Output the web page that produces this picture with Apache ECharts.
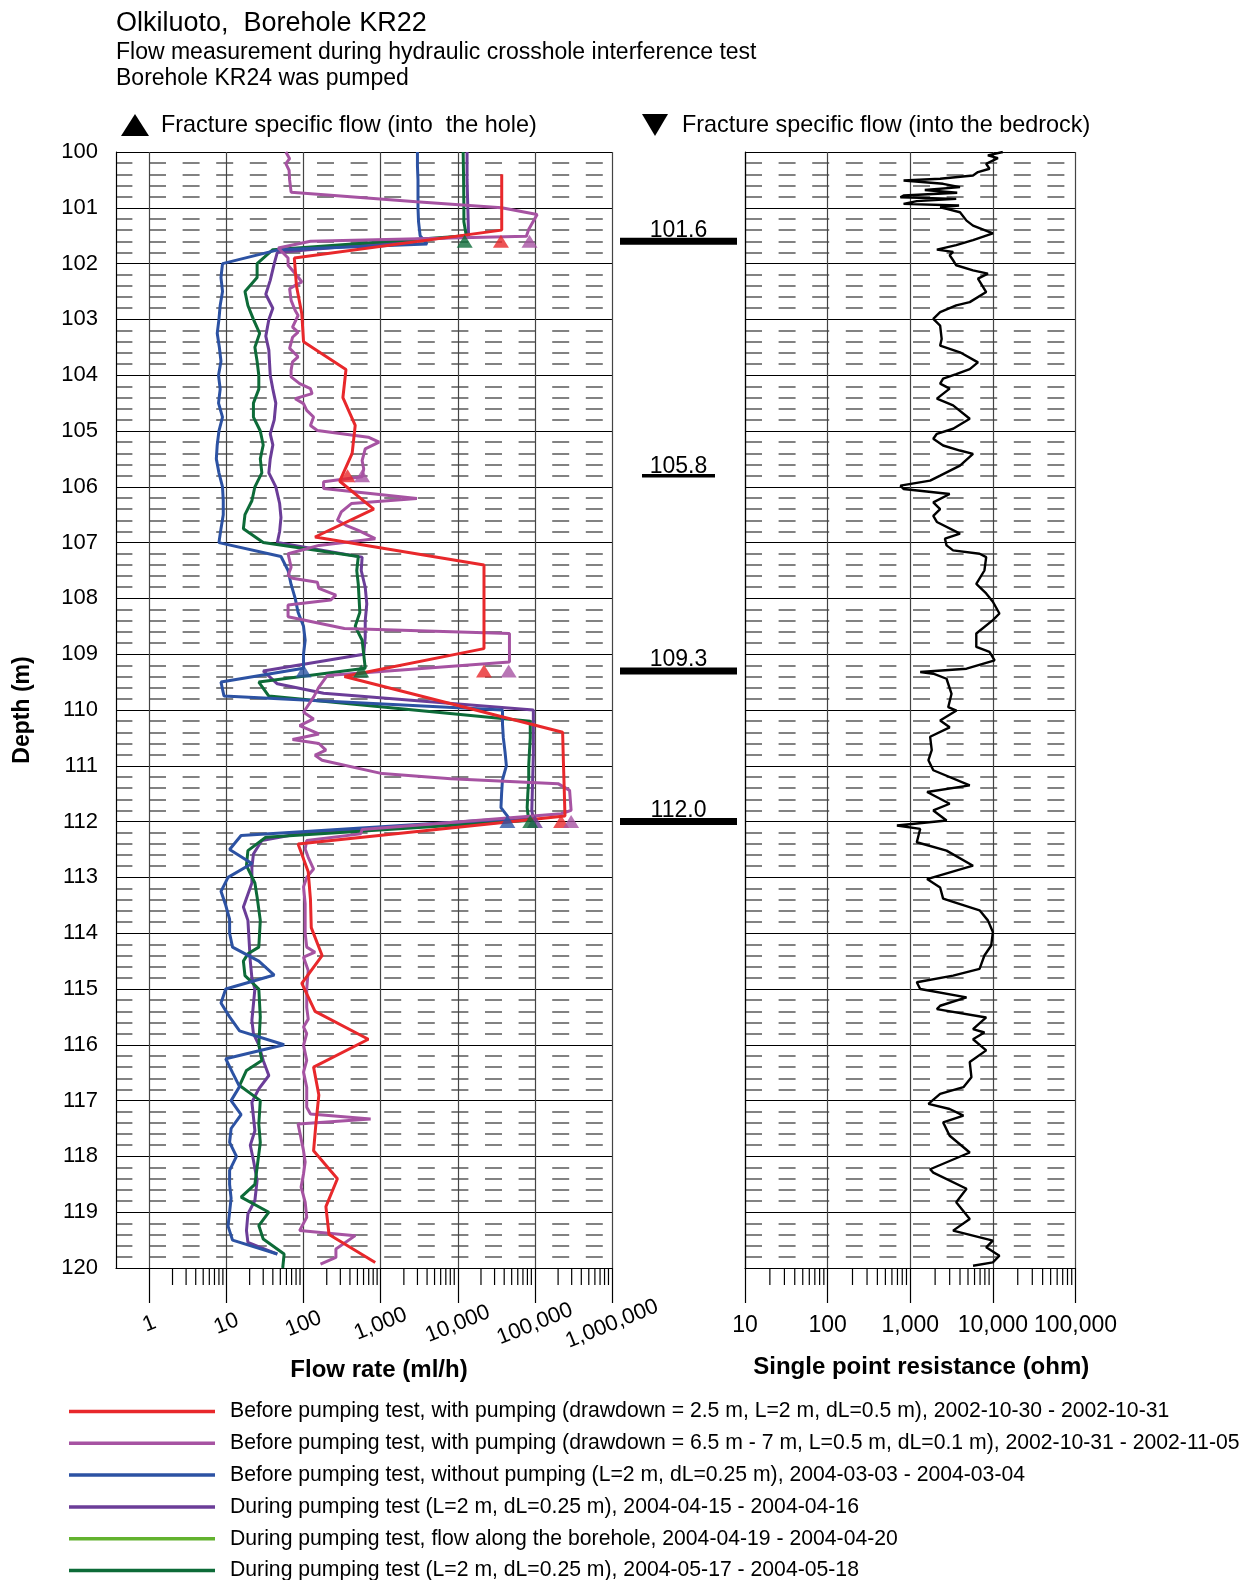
<!DOCTYPE html>
<html>
<head>
<meta charset="utf-8">
<script src="https://cdn.jsdelivr.net/npm/echarts@6/dist/echarts.min.js"></script>
<style>html,body{margin:0;padding:0;background:#fff}#chart{width:1254px;height:1580px}</style>
</head>
<body>
<div id="chart"></div>
<script>
// ---------------- DATA (depth in m, flow in ml/h, resistance in ohm) ----------------
const seriesNames = [
  'Before pumping test, with pumping (drawdown = 2.5 m, L=2 m, dL=0.5 m), 2002-10-30 - 2002-10-31',
  'Before pumping test, with pumping (drawdown = 6.5 m - 7 m, L=0.5 m, dL=0.1 m), 2002-10-31 - 2002-11-05',
  'Before pumping test, without pumping (L=2 m, dL=0.25 m), 2004-03-03 - 2004-03-04',
  'During pumping test (L=2 m, dL=0.25 m), 2004-04-15 - 2004-04-16',
  'During pumping test, flow along the borehole, 2004-04-19 - 2004-04-20',
  'During pumping test (L=2 m, dL=0.25 m), 2004-05-17 - 2004-05-18'
];
const seriesColors = ['#e8282b', '#a653a2', '#2c52a3', '#6b3d98', '#62b22f', '#0d6b38'];

// red: drawdown 2.5 m
const redDepth = [100.4,100.9,101.4,101.9,102.4,102.9,103.4,103.9,104.4,104.9,105.4,105.9,106.4,106.9,107.4,107.9,108.4,108.9,109.4,110.4,110.9,111.4,111.9,112.4,112.9,113.4,113.9,114.4,114.9,115.4,115.9,116.4,116.9,117.4,117.9,118.4,118.9,119.4,119.9];
const redFlow  = [37150,37150,37150,76,81,95,100,355,324,468,427,295,813,141,21880,21880,21880,21880,339,229000,234000,240000,245500,85,115,123,126,174,95,141,692,135,158,145,135,275,195,214,851];

// magenta: drawdown 6.5-7 m
const magDepth = [100.0,100.12,100.21,100.33,100.5,100.72,100.89,101.0,101.12,101.39,101.51,101.6,101.72,101.9,102.03,102.24,102.33,102.39,102.45,102.66,102.84,102.93,103.14,103.23,103.32,103.52,103.67,103.76,103.91,104.03,104.15,104.24,104.33,104.42,104.51,104.63,104.75,104.9,104.99,105.11,105.2,105.32,105.53,105.68,105.82,105.91,106.03,106.21,106.3,106.45,106.6,106.69,106.78,106.93,107.05,107.11,107.2,107.44,107.59,107.64,107.71,107.82,107.94,108.03,108.12,108.33,108.54,108.63,109.14,109.38,109.59,109.77,110.04,110.16,110.28,110.43,110.53,110.6,110.72,110.81,110.9,111.14,111.23,111.32,111.44,111.8,111.86,112.14,112.22,112.34,112.49,112.64,112.85,113.0,113.17,113.47,113.77,114.0,114.25,114.34,114.43,114.67,115.0,115.33,115.54,115.68,115.8,116.01,116.28,116.49,116.76,117.12,117.24,117.33,117.42,117.9,118.1,118.31,118.55,118.82,119.09,119.33,119.42,119.66,119.81,119.93];
const magFlow  = [59,66,59,65,66,69,2900,37000,107000,83000,77600,123,47,63,63,85,95,78,66,69,78,85,72,85,72,66,85,72,69,69,89,123,129,78,100,110,135,123,151,692,955,631,575,603,575,182,182,2950,417,309,275,355,513,851,158,110,63,69,63,72,151,158,263,224,63,63,339,46800,46800,204,158,135,100,135,89,158,72,158,195,141,174,1047,8130,199500,282000,295000,219000,575,550,110,105,115,135,110,100,105,105,105,110,141,100,115,110,110,115,100,110,100,110,100,110,110,123,741,85,100,105,100,93,105,110,89,468,263,263,166];

// blue: without pumping
const blueDepth = [100.0,100.25,100.5,100.75,101.0,101.25,101.5,101.65,101.75,102.0,102.25,102.5,102.75,103.0,103.25,103.5,103.75,104.0,104.25,104.5,104.75,105.0,105.25,105.5,105.75,106.0,106.25,106.5,106.75,107.0,107.25,107.5,107.75,108.0,108.25,108.5,108.75,109.0,109.25,109.5,109.75,110.0,110.25,110.5,110.75,111.0,111.25,111.5,111.75,111.95,112.25,112.5,112.75,113.0,113.25,113.5,113.75,114.0,114.25,114.5,114.75,115.0,115.25,115.5,115.75,116.0,116.25,116.5,116.75,117.0,117.25,117.5,117.75,118.0,118.25,118.5,118.75,119.0,119.25,119.5,119.75];
const blueFlow  = [3000,3000,3050,3050,3050,3100,3250,4000,48,8.9,8.5,8.9,8.3,8.0,7.6,8.1,8.5,7.9,8.3,7.9,8.9,8.0,7.6,7.4,8.0,8.9,9.1,9.1,8.5,8.0,51,63,69,78,85,100,105,100,100,8.5,9.3,38000,38000,39000,41000,42700,38000,37000,36300,47000,15.5,11,21.4,10.5,8.5,9.8,11,11,12,26.3,41.7,9.8,8.5,11,14.8,56,9.8,12,14.8,11.5,15.5,11.5,11,13.5,11,11,11.5,11,10.5,12,45.7];

// purple: during pumping 2004-04
const purDepth = [100.0,100.5,101.0,101.5,101.8,102.0,102.3,102.55,102.8,103.0,103.3,103.55,104.0,104.25,104.5,104.8,105.05,105.25,105.5,105.75,106.0,106.3,106.55,106.8,107.0,107.26,107.5,107.8,108.1,108.4,108.7,109.0,109.3,109.53,109.7,110.0,110.8,111.8,111.95,112.19,112.34,112.58,112.82,113.1,113.53,113.77,114.5,114.8,115.0,115.56,115.8,116.0,116.28,116.55,116.79,117.03,117.54,117.8,118.07,118.43,118.79,119.03,119.33,119.54,119.75];
const purFlow  = [13200,13200,13500,13800,45.7,41.7,37,32.4,40,35.5,32.4,35.5,37,40,43.7,41.7,37,40,37,35.5,43.7,49,51,49,45.7,575,560,631,661,631,631,603,30,45.7,182,95500,95500,91200,95500,110,28.8,22.4,21.4,21.4,16.6,19,20.4,21.4,23.4,21.4,22.4,26.3,30,35.5,26.3,21.4,23.4,20.4,22.4,25,23.4,19,18.2,19,45.7];

// light green: flow along the borehole (no trace visible in the plot)
const lgDepth = [];
const lgFlow  = [];

// dark green: during pumping 2004-05
const dgDepth = [100.0,100.5,101.0,101.25,101.5,101.75,102.0,102.25,102.5,102.75,103.0,103.25,103.5,103.75,104.0,104.25,104.5,104.75,105.0,105.25,105.5,105.75,106.0,106.25,106.5,106.75,107.0,107.25,107.5,107.75,108.0,108.25,108.5,108.75,109.0,109.25,109.5,109.75,110.2,110.5,110.75,111.0,111.25,111.5,111.75,111.98,112.28,112.52,112.79,113.1,113.35,113.77,114.25,114.37,114.5,114.76,115.0,115.5,116.0,116.28,116.46,116.73,117.0,117.42,117.75,118.2,118.5,118.73,119.0,119.24,119.48,119.75,120.0];
const dgFlow  = [11750,11900,12000,12000,12900,40,25,25,17.4,19,22.4,27,23.4,25,26.3,26.3,22.4,22.4,27.5,30,27.5,28.8,23.4,21.4,17.4,16.6,30,513,490,513,525,537,468,575,603,631,26.3,35.5,87100,87100,85000,83200,83200,81000,79400,83200,32.4,19,18.2,23.4,25,27.5,26.3,19,16.6,17.4,26.3,27.5,26.3,28.8,18.2,14.8,27.5,26.3,27.5,25,23.4,15.5,35.5,26.3,30,56,53.7];

// fracture specific flows (into the hole), triangles
const fracRedDepth = [101.6,105.8,109.3,112.0];
const fracRedFlow  = [36300,372,21880,218800];
const fracMagDepth = [101.6,105.8,109.3,112.0];
const fracMagFlow  = [85100,575,45700,295100];
const fracBlueDepth = [109.3,112.0];
const fracBlueFlow  = [100,44000];
const fracPurDepth = [112.0];
const fracPurFlow  = [100000];
const fracDgDepth = [101.6,109.3,112.0];
const fracDgFlow  = [12300,560,87100];

// single point resistance (ohm)
const resDepth = [100.0,100.06,100.11,100.21,100.3,100.36,100.42,100.48,100.51,100.57,100.63,100.68,100.73,100.78,100.81,100.84,100.88,100.93,100.96,100.99,101.02,101.08,101.23,101.32,101.46,101.58,101.67,101.75,101.79,101.85,101.94,102.03,102.12,102.18,102.27,102.51,102.69,102.75,102.87,102.99,103.11,103.35,103.47,103.59,103.77,103.89,103.98,104.06,104.15,104.24,104.42,104.54,104.78,104.96,105.05,105.14,105.26,105.35,105.41,105.62,105.8,105.89,105.98,106.04,106.13,106.28,106.4,106.52,106.63,106.84,106.93,107.05,107.14,107.2,107.26,107.5,107.74,107.91,108.06,108.27,108.39,108.63,108.87,108.96,109.11,109.26,109.32,109.35,109.44,109.71,109.95,110.01,110.19,110.31,110.48,110.72,110.9,111.08,111.35,111.47,111.68,111.8,111.98,112.07,112.13,112.37,112.52,112.79,113.03,113.18,113.38,113.44,113.59,113.77,113.98,114.22,114.4,114.64,114.76,114.88,115.0,115.15,115.3,115.36,115.51,115.72,115.78,115.9,116.1,116.31,116.58,116.76,116.88,117.06,117.15,117.27,117.39,117.63,117.93,118.23,118.29,118.58,118.82,119.12,119.33,119.51,119.63,119.78,119.9,119.96];
const resOhm   = [13200,8700,11500,8300,9100,6600,5750,2300,830,2500,4000,1500,3700,830,760,3600,1200,830,3900,2300,2750,4000,4800,5750,10000,5750,3600,2100,3300,3000,3300,3600,5750,8700,6600,8300,5250,3600,2300,1900,2300,2400,2300,4000,6600,5250,3600,2500,2300,3000,2100,3300,5250,3300,2100,1900,2500,4000,5750,4000,2300,1740,760,830,3000,1900,2300,1900,2100,4000,2630,2750,3300,6900,8300,7900,6300,8300,10000,12000,10000,6300,6300,9100,10500,4800,1320,1900,2750,3160,2880,3630,2300,3000,1740,1820,1660,1900,5250,1600,3000,1900,2750,690,1320,1200,2750,5750,1600,2300,2500,3300,6900,8700,10000,9550,7900,6900,3300,1200,1320,4800,2300,2100,8300,5750,7900,5750,8300,5250,5500,4400,2300,1660,3000,4400,2500,3000,5250,1740,1900,4800,3600,5250,3300,10000,8300,12000,10000,5750];

// fracture depths marked between the panels
const markDepth  = [101.6, 105.8, 109.3, 112.0];
const markLabel  = ['101.6', '105.8', '109.3', '112.0'];
const markThick  = [1, 0, 1, 1];

// tick labels
const flowTicks = [1, 10, 100, 1000, 10000, 100000, 1000000];
const resTicks  = [10, 100, 1000, 10000, 100000];

// ---------------- CHART ----------------
const FONT = '"Liberation Sans", Arial, Helvetica, sans-serif';
const pairs = (d, v) => d.map((y, i) => [v[i], y]);
const fmt = v => String(Math.round(v)).replace(/\B(?=(\d{3})+(?!\d))/g, ',');
const minorOf = majors => {
  const out = [];
  for (let i = 0; i < majors.length - 1; i++) for (let k = 2; k <= 9; k++) out.push([majors[i] * k, 120]);
  return out;
};

const TOP = 152, BOTTOM_Y = 1268, H = BOTTOM_Y - TOP;

function yAxisCfg(grid, showLabels, dashOffset) {
  return {
    type: 'value', gridIndex: grid, inverse: true, min: 100, max: 120, interval: 1,
    axisLine: { show: true, lineStyle: { color: '#000', width: 1.2 } },
    axisTick: { show: false },
    axisLabel: { show: showLabels, fontSize: 22, color: '#000', margin: 18, fontFamily: FONT },
    splitLine: { show: true, lineStyle: { color: '#000', width: 1.2 } },
    minorTick: { show: false, splitNumber: 5 },
    minorSplitLine: { show: true, lineStyle: { color: '#5a5a5a', width: 1.6, type: [17, 16.6], dashOffset: dashOffset } },
    name: showLabels ? 'Depth (m)' : '',
    nameLocation: 'middle', nameGap: 82, nameRotate: 90,
    nameTextStyle: { fontSize: 23, fontWeight: 'bold', color: '#000', fontFamily: FONT }
  };
}

const lineSeries = (name, color, data) => ({
  name, type: 'line', xAxisIndex: 0, yAxisIndex: 0, data,
  symbol: 'none', showSymbol: false, color,
  lineStyle: { color, width: 3 }, animation: false, z: 3
});
const triSeries = (color, data) => ({
  type: 'scatter', xAxisIndex: 0, yAxisIndex: 0, data, symbol: 'triangle',
  symbolSize: [16, 13], itemStyle: { color }, animation: false, z: 4, silent: true
});
const minorTickSeries = (xi, yi, data) => ({
  type: 'custom', xAxisIndex: xi, yAxisIndex: yi, data, clip: false, silent: true, z: 6,
  renderItem: (p, api) => {
    const c = api.coord([api.value(0), api.value(1)]);
    return { type: 'line', shape: { x1: c[0], y1: c[1], x2: c[0], y2: c[1] + 17 }, style: { stroke: '#000', lineWidth: 1.2 } };
  }
});

const option = {
  animation: false,
  backgroundColor: '#fff',
  textStyle: { fontFamily: FONT },
  grid: [
    { left: 116, top: TOP, width: 612 - 116, height: H, outerBoundsMode: 'none' },
    { left: 745, top: TOP, width: 1075.5 - 745, height: H, outerBoundsMode: 'none' },
    { left: 620, top: TOP, width: 117, height: H, outerBoundsMode: 'none' }
  ],
  xAxis: [
    {
      type: 'log', logBase: 10, gridIndex: 0, min: 0.37, max: 1000000,
      axisLine: { show: true, lineStyle: { color: '#000', width: 1.2 } },
      axisTick: { show: true, length: 35, customValues: flowTicks, lineStyle: { color: '#000', width: 1.2 } },
      axisLabel: { customValues: flowTicks, rotate: 22, align: 'center', verticalAlign: 'middle', margin: 56,
                   fontSize: 22, color: '#000', fontFamily: FONT, formatter: v => fmt(v) },
      splitLine: { show: true, lineStyle: { color: '#444', width: 1.2 } },
      minorTick: { show: false }, minorSplitLine: { show: false },
      name: 'Flow rate (ml/h)', nameLocation: 'middle', nameGap: 87,
      nameTextStyle: { fontSize: 24, fontWeight: 'bold', color: '#000', fontFamily: FONT, padding: [0, 0, 0, 30] }
    },
    {
      type: 'log', logBase: 10, gridIndex: 1, min: 10, max: 100000,
      axisLine: { show: true, lineStyle: { color: '#000', width: 1.2 } },
      axisTick: { show: true, length: 35, customValues: resTicks, lineStyle: { color: '#000', width: 1.2 } },
      axisLabel: { customValues: resTicks, margin: 46, fontSize: 23, color: '#000', fontFamily: FONT, formatter: v => fmt(v) },
      splitLine: { show: true, lineStyle: { color: '#444', width: 1.2 } },
      minorTick: { show: false }, minorSplitLine: { show: false },
      name: 'Single point resistance (ohm)', nameLocation: 'middle', nameGap: 87,
      nameTextStyle: { fontSize: 24, fontWeight: 'bold', color: '#000', fontFamily: FONT, padding: [0, 0, 0, 22] }
    },
    { type: 'value', gridIndex: 2, min: 0, max: 1, show: false }
  ],
  yAxis: [
    yAxisCfg(0, true, 0.6),
    yAxisCfg(1, false, 0),
    { type: 'value', gridIndex: 2, inverse: true, min: 100, max: 120, show: false }
  ],
  legend: {
    data: seriesNames, orient: 'vertical', left: 69, top: 1401, height: 200, padding: 0,
    itemWidth: 146, itemHeight: 3.5, itemGap: 10.8, icon: 'rect', selectedMode: false,
    textStyle: { fontSize: 21.2, color: '#000', fontFamily: FONT, padding: [0, 0, 0, 10] }
  },
  graphic: [
    { type: 'text', left: 116, top: 10, style: { text: 'Olkiluoto,  Borehole KR22', fontSize: 27, fill: '#000', fontFamily: FONT } },
    { type: 'text', left: 116, top: 41, style: { text: 'Flow measurement during hydraulic crosshole interference test', fontSize: 23, fill: '#000', fontFamily: FONT } },
    { type: 'text', left: 116, top: 67, style: { text: 'Borehole KR24 was pumped', fontSize: 23, fill: '#000', fontFamily: FONT } },
    { type: 'polygon', shape: { points: [[121, 136], [149, 136], [135, 114]] }, style: { fill: '#000' } },
    { type: 'text', left: 161, top: 114, style: { text: 'Fracture specific flow (into  the hole)', fontSize: 23.4, fill: '#000', fontFamily: FONT } },
    { type: 'polygon', shape: { points: [[642, 114], [668, 114], [655, 136]] }, style: { fill: '#000' } },
    { type: 'text', left: 682, top: 114, style: { text: 'Fracture specific flow (into the bedrock)', fontSize: 23.4, fill: '#000', fontFamily: FONT } }
  ],
  series: [
    lineSeries(seriesNames[4], seriesColors[4], pairs(lgDepth, lgFlow)),
    lineSeries(seriesNames[3], seriesColors[3], pairs(purDepth, purFlow)),
    lineSeries(seriesNames[5], seriesColors[5], pairs(dgDepth, dgFlow)),
    lineSeries(seriesNames[2], seriesColors[2], pairs(blueDepth, blueFlow)),
    lineSeries(seriesNames[1], seriesColors[1], pairs(magDepth, magFlow)),
    lineSeries(seriesNames[0], seriesColors[0], pairs(redDepth, redFlow)),
    triSeries(seriesColors[3], pairs(fracPurDepth, fracPurFlow)),
    triSeries(seriesColors[2], pairs(fracBlueDepth, fracBlueFlow)),
    triSeries(seriesColors[5], pairs(fracDgDepth, fracDgFlow)),
    triSeries(seriesColors[0], pairs(fracRedDepth, fracRedFlow)),
    triSeries(seriesColors[1], pairs(fracMagDepth, fracMagFlow)),
    {
      type: 'line', xAxisIndex: 1, yAxisIndex: 1, data: pairs(resDepth, resOhm),
      symbol: 'none', showSymbol: false, lineStyle: { color: '#000', width: 2.4 }, color: '#000', z: 3
    },
    minorTickSeries(0, 0, minorOf(flowTicks)),
    minorTickSeries(1, 1, minorOf(resTicks)),
    {
      type: 'custom', xAxisIndex: 2, yAxisIndex: 2, clip: false, silent: true,
      data: markDepth.map((d, i) => [0.5, d, markThick[i]]),
      renderItem: (p, api) => {
        const c = api.coord([api.value(0), api.value(1)]);
        const thick = api.value(2) === 1;
        const w = thick ? 117 : 73, h = thick ? 7 : 3.5;
        return { type: 'group', children: [
          { type: 'rect', shape: { x: c[0] - w / 2, y: c[1] - h / 2, width: w, height: h }, style: { fill: '#000' } },
          { type: 'text', x: c[0], y: c[1] - h / 2 + 4, style: { text: markLabel[p.dataIndex], fontSize: 23, fill: '#000', align: 'center', verticalAlign: 'bottom', fontFamily: FONT } }
        ] };
      }
    }
  ]
};

const chart = echarts.init(document.getElementById('chart'), null, { renderer: 'canvas', width: 1254, height: 1580 });
chart.setOption(option);
</script>
</body>
</html>
